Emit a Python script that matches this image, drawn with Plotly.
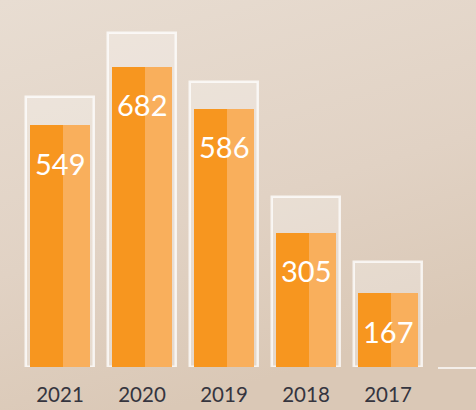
import plotly.graph_objects as go
import urllib.parse

years = ["2021", "2020", "2019", "2018", "2017"]
values = [549, 682, 586, 305, 167]
glass_tops = [613, 758, 647, 386, 238]  # height of each glass outline

idx = list(range(len(years)))

fig = go.Figure()

# glass (outline + translucent interior)
fig.add_trace(go.Bar(
    x=idx, y=glass_tops, width=0.83,
    marker=dict(color="rgba(255,255,255,0.28)",
                line=dict(color="rgba(255,255,255,0.75)", width=2.5)),
    hoverinfo="skip", showlegend=False,
))
# liquid: darker left part
fig.add_trace(go.Bar(
    x=idx, y=values, width=0.41, offset=-0.37,
    marker=dict(color="#F7961F", line=dict(width=0)),
    showlegend=False,
))
# liquid: lighter right part
fig.add_trace(go.Bar(
    x=idx, y=values, width=0.33, offset=0.04,
    marker=dict(color="#F9AF5C", line=dict(width=0)),
    showlegend=False,
))

for i, v in zip(idx, values):
    fig.add_annotation(x=i, y=v, yshift=-38, text=str(v), showarrow=False,
                       font=dict(family="Lato", size=29, color="white"),
                       xanchor="center", yanchor="middle")

svg = ('<svg xmlns="http://www.w3.org/2000/svg" width="476" height="410">'
       '<defs><linearGradient id="g" x1="0" y1="0" x2="0.35" y2="1">'
       '<stop offset="0" stop-color="#E8DDD2"/>'
       '<stop offset="0.6" stop-color="#E1D2C4"/>'
       '<stop offset="1" stop-color="#DAC8B6"/>'
       '</linearGradient></defs>'
       '<rect width="476" height="410" fill="url(#g)"/></svg>')
src = "data:image/svg+xml;charset=utf-8," + urllib.parse.quote(svg)

fig.add_layout_image(dict(source=src, xref="paper", yref="paper",
                          x=0, y=1, sizex=1, sizey=410 / 367,
                          xanchor="left", yanchor="top",
                          sizing="stretch", layer="below"))

fig.add_shape(type="line", xref="paper", yref="paper",
              x0=438 / 476, x1=1, y0=-1 / 367, y1=-1 / 367,
              line=dict(color="rgba(255,255,255,0.95)", width=1.5))

fig.update_layout(
    width=476, height=410,
    margin=dict(l=0, r=0, t=0, b=43),
    paper_bgcolor="#DCCBBB",
    plot_bgcolor="rgba(0,0,0,0)",
    barmode="overlay",
    bargap=0,
    xaxis=dict(range=[-60 / 82, -60 / 82 + 476 / 82], tickmode="array",
               tickvals=idx, ticktext=years, showgrid=False, zeroline=False,
               showline=False, ticks="", ticklabelstandoff=13,
               tickfont=dict(family="Lato", size=20.5, color="#35353F"),
               fixedrange=True),
    yaxis=dict(range=[0, 833], visible=False, showgrid=False, fixedrange=True),
)

fig.write_html("out.html")
